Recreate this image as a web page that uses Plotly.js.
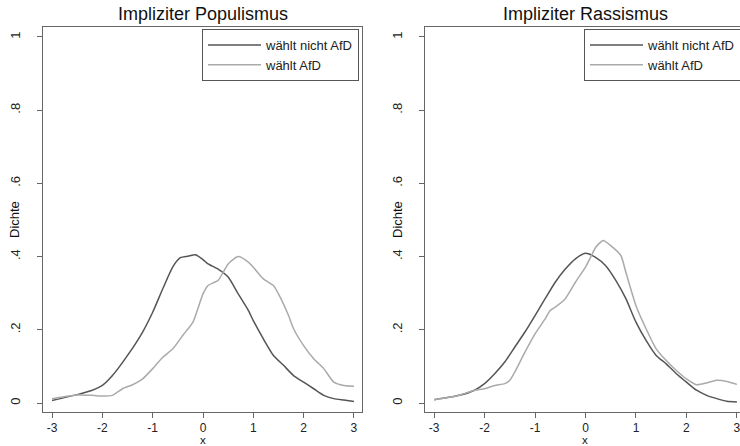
<!DOCTYPE html>
<html>
<head>
<meta charset="utf-8">
<script src="https://cdn.plot.ly/plotly-3.0.1.min.js"></script>
<style>
html,body{margin:0;padding:0;overflow:hidden;background:#fff;}
#chart{width:750px;height:446px;}
</style>
</head>
<body>
<div id="chart"></div>
<script>
// Data (kernel density estimates)
var panelTitles = ["Impliziter Populismus", "Impliziter Rassismus"];
var seriesNames = ["wählt nicht AfD", "wählt AfD"];
var xTitle = "x";
var yTitle = "Dichte";
var xTicks = [-3, -2, -1, 0, 1, 2, 3];
var xTickText = ["-3", "-2", "-1", "0", "1", "2", "3"];
var yTicks = [0, 0.2, 0.4, 0.6, 0.8, 1];
var yTickText = ["0", ".2", ".4", ".6", ".8", "1"];

// Impliziter Populismus - wählt nicht AfD
var popNichtX = [-3,-2.5,-2.2,-2,-1.8,-1.5,-1.2,-1,-0.8,-0.6,-0.45,-0.3,-0.15,0,0.1,0.3,0.5,0.7,0.9,1,1.2,1.4,1.6,1.8,2,2.2,2.4,2.6,2.8,3];
var popNichtY = [0.007,0.023,0.035,0.048,0.075,0.13,0.194,0.248,0.312,0.372,0.397,0.401,0.405,0.392,0.38,0.366,0.344,0.298,0.253,0.225,0.175,0.13,0.103,0.075,0.057,0.039,0.021,0.012,0.008,0.004];
// Impliziter Populismus - wählt AfD
var popAfdX = [-3,-2.5,-2.2,-2,-1.8,-1.6,-1.4,-1.2,-1,-0.8,-0.6,-0.4,-0.2,0,0.1,0.3,0.4,0.5,0.7,0.9,1,1.2,1.4,1.5,1.7,1.8,2,2.2,2.4,2.6,2.8,3];
var popAfdY = [0.012,0.022,0.021,0.019,0.021,0.039,0.05,0.066,0.094,0.125,0.148,0.185,0.221,0.298,0.321,0.335,0.357,0.38,0.40,0.385,0.371,0.339,0.321,0.298,0.239,0.203,0.157,0.121,0.094,0.057,0.048,0.046];
// Impliziter Rassismus - wählt nicht AfD
var rasNichtX = [-3,-2.5,-2.2,-2,-1.8,-1.6,-1.4,-1.2,-1,-0.8,-0.6,-0.4,-0.2,0,0.2,0.4,0.6,0.8,1,1.2,1.4,1.6,1.8,2,2.2,2.4,2.6,2.8,3];
var rasNichtY = [0.009,0.021,0.035,0.053,0.08,0.112,0.153,0.194,0.239,0.285,0.33,0.366,0.394,0.409,0.398,0.375,0.335,0.285,0.221,0.171,0.13,0.107,0.08,0.057,0.035,0.021,0.012,0.005,0.003];
// Impliziter Rassismus - wählt AfD
var rasAfdX = [-3,-2.5,-2.2,-2,-1.8,-1.6,-1.5,-1.4,-1.2,-1,-0.8,-0.7,-0.6,-0.4,-0.2,0,0.1,0.2,0.35,0.5,0.7,0.8,1,1.2,1.4,1.6,1.8,2,2.2,2.4,2.6,2.8,3];
var rasAfdY = [0.009,0.021,0.035,0.039,0.048,0.053,0.062,0.085,0.139,0.189,0.23,0.253,0.262,0.285,0.33,0.371,0.398,0.425,0.444,0.43,0.403,0.357,0.266,0.203,0.148,0.116,0.089,0.066,0.05,0.055,0.062,0.059,0.051];

var darkCol = "#555555", lightCol = "#aaaaaa";
var W = 750, H = 446, T = 27, B = 34;

function tr(x, y, name, col, xa, ya, leg) {
  return {x: x, y: y, name: name, type: "scatter", mode: "lines",
    line: {color: col, width: 1.5, shape: "spline", smoothing: 0.6},
    xaxis: xa, yaxis: ya, legend: leg, showlegend: true, hoverinfo: "x+y"};
}

var data = [
  tr(popNichtX, popNichtY, seriesNames[0], darkCol, "x", "y", "legend"),
  tr(popAfdX, popAfdY, seriesNames[1], lightCol, "x", "y", "legend"),
  tr(rasNichtX, rasNichtY, seriesNames[0], darkCol, "x2", "y2", "legend2"),
  tr(rasAfdX, rasAfdY, seriesNames[1], lightCol, "x2", "y2", "legend2")
];

var fontFam = "Liberation Sans, Arial, sans-serif";
function xax(dom, anchor) {
  return {domain: dom, anchor: anchor, range: [-3.18, 3.16], tickvals: xTicks, ticktext: xTickText,
    ticks: "outside", ticklen: 5, tickcolor: "#666", showline: true, linecolor: "#666",
    linewidth: 1, mirror: true, showgrid: false, zeroline: false,
    tickfont: {size: 12, color: "#222", family: fontFam}};
}
function yax(anchor) {
  return {anchor: anchor, range: [-0.0245, 1.0272], tickvals: yTicks, ticktext: yTickText,
    tickangle: -90, ticks: "outside", ticklen: 5, tickcolor: "#666", showline: true,
    linecolor: "#666", linewidth: 1, mirror: true, showgrid: false, zeroline: false,
    ticklabelstandoff: 12,
    tickfont: {size: 13, color: "#222", family: fontFam}};
}
function leg(x, xanchor) {
  return {x: x, xanchor: xanchor, y: 0.995, yanchor: "top", bgcolor: "#fff",
    bordercolor: "#555", borderwidth: 1, font: {size: 13, color: "#222", family: fontFam},
    itemwidth: 53, tracegroupgap: 0};
}
function pyPaper(px) { return (H - B - px) / (H - T - B); }
function ann(text, xpx, ypx, size, angle) {
  return {text: text, xref: "paper", yref: "paper", x: xpx / W, y: pyPaper(ypx),
    xanchor: "center", yanchor: "middle", showarrow: false, textangle: angle || 0,
    font: {size: size, color: "#111", family: fontFam}};
}

var layout = {
  width: W, height: H,
  margin: {l: 0, r: 0, t: T, b: B},
  paper_bgcolor: "#fff", plot_bgcolor: "#fff",
  font: {family: fontFam, color: "#222"},
  xaxis: xax([43 / W, 362 / W], "y"),
  yaxis: yax("x"),
  xaxis2: xax([425 / W, 745 / W], "y2"),
  yaxis2: yax("x2"),
  legend: leg(359 / W, "right"),
  legend2: leg(584 / W, "left"),
  annotations: [
    ann(panelTitles[0], 202.5, 14, 18),
    ann(panelTitles[1], 585, 14, 18),
    ann(xTitle, 202.5, 439.5, 11.5),
    ann(xTitle, 585, 439.5, 11.5),
    ann(yTitle, 14, 220, 13, -90),
    ann(yTitle, 397, 220, 13, -90)
  ]
};

Plotly.newPlot("chart", data, layout, {staticPlot: true, displayModeBar: false});
</script>
</body>
</html>
